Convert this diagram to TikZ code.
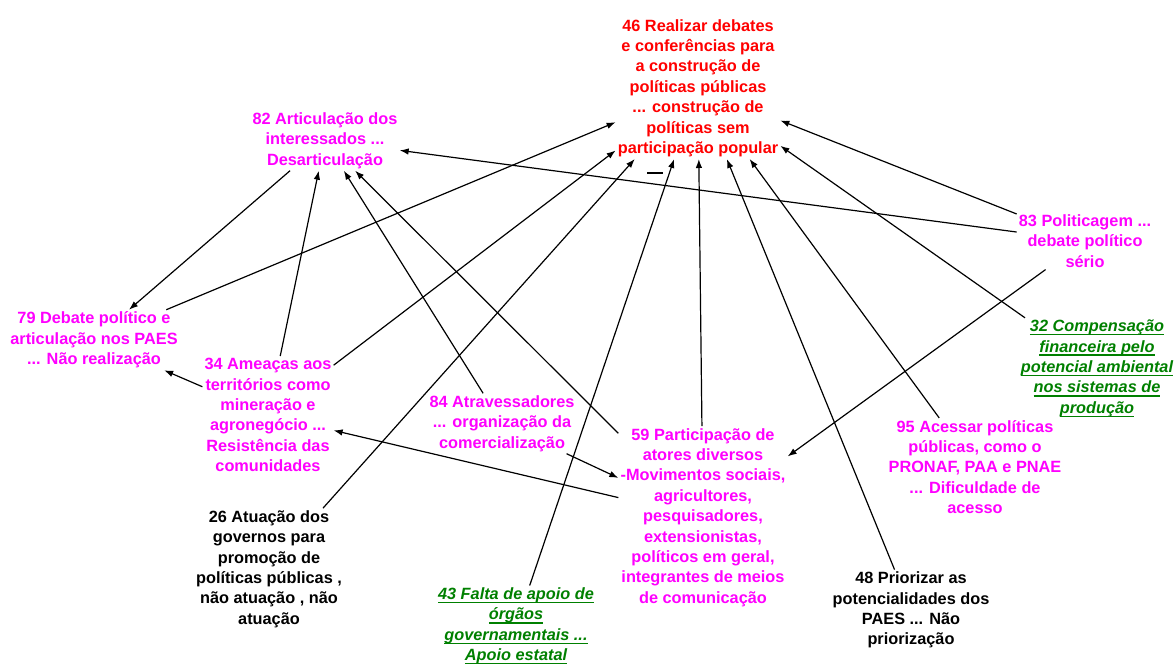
\documentclass[tikz,border=0pt]{standalone}
\usepackage{fontspec}
\setmainfont{Liberation Sans}
\usetikzlibrary{arrows.meta}

\definecolor{redtxt}{RGB}{255,0,0}
\definecolor{magtxt}{RGB}{255,0,255}
\definecolor{grntxt}{RGB}{0,128,0}

% underline at a fixed depth below the baseline, in the text colour
\newcommand\greenul[1]{\setbox0\hbox{#1}\leavevmode\rlap{\rule[-3.6pt]{\wd0}{1.3pt}}\box0}

\tikzset{
  lbl/.style={font=\bfseries\fontsize{16.3}{20.4}\selectfont, align=center, inner sep=2pt},
  redlbl/.style={lbl, text=redtxt},
  maglbl/.style={lbl, text=magtxt},
  blklbl/.style={lbl, text=black},
  grnlbl/.style={lbl, text=grntxt, font=\bfseries\itshape\fontsize{16.3}{20.4}\selectfont},
  link/.style={draw=black, line width=1.2pt, -{Latex[length=9pt,width=6.5pt]}},
}

\begin{document}
\begin{tikzpicture}[x=1pt,y=-1pt]
\fill[white] (0,0) rectangle (1176,664);
\useasboundingbox (0,0) rectangle (1176,664);

% central concept
\node[redlbl] (n46) at (698,88) {46 Realizar debates\\e conferências para\\a construção de\\políticas públicas\\... construção de\\políticas sem\\participação popular};
\draw[line width=1.3pt] (647,173) -- (663,173);

% surrounding concepts
\node[maglbl] (n82) at (325,140.5) {82 Articulação dos\\interessados ...\\Desarticulação};
\node[maglbl] (n79) at (94,340) {79 Debate político e\\articulação nos PAES\\... Não realização};
\node[maglbl] (n34) at (268,415) {34 Ameaças aos\\territórios como\\mineração e\\agronegócio ...\\Resistência das\\comunidades};
\node[maglbl] (n84) at (502,423.5) {84 Atravessadores\\... organização da\\comercialização};
\node[maglbl] (n59) at (703,517.5) {59 Participação de\\atores diversos\\-Movimentos sociais,\\agricultores,\\pesquisadores,\\extensionistas,\\políticos em geral,\\integrantes de meios\\de comunicação};
\node[blklbl] (n26) at (269,569) {26 Atuação dos\\governos para\\promoção de\\políticas públicas ,\\não atuação , não\\atuação};
\node[grnlbl] (n43) at (516,626) {\greenul{43 Falta de apoio de}\\\greenul{órgãos}\\\greenul{governamentais ...}\\\greenul{Apoio estatal}};
\node[blklbl] (n48) at (911,610) {48 Priorizar as\\potencialidades dos\\PAES ... Não\\priorização};
\node[maglbl] (n95) at (975,467) {95 Acessar políticas\\públicas, como o\\PRONAF, PAA e PNAE\\... Dificuldade de\\acesso};
\node[maglbl] (n83) at (1085,241) {83 Politicagem ...\\debate político\\sério};
\node[grnlbl] (n32) at (1097,368.5) {\greenul{32 Compensação}\\\greenul{financeira pelo}\\\greenul{potencial ambiental}\\\greenul{nos sistemas de}\\\greenul{produção}};

% influences on the central concept
\draw[link] (n79) -- (n46);
\draw[link] (n34) -- (n46);
\draw[link] (n26) -- (n46);
\draw[link] (n43) -- (n46);
\draw[link] (n59) -- (n46);
\draw[link] (n48) -- (n46);
\draw[link] (n95) -- (n46);
\draw[link] (n32) -- (n46);
\draw[link] (n83) -- (n46);

% other influences
\draw[link] (n83) -- (n82);
\draw[link] (n34) -- (n82);
\draw[link] (n84) -- (n82);
\draw[link] (n59) -- (n82);
\draw[link] (n82) -- (n79);
\draw[link] (n34) -- (n79);
\draw[link] (n59) -- (n34);
\draw[link] (n84) -- (n59);
\draw[link] (n83) -- (n59);
\end{tikzpicture}
\end{document}
